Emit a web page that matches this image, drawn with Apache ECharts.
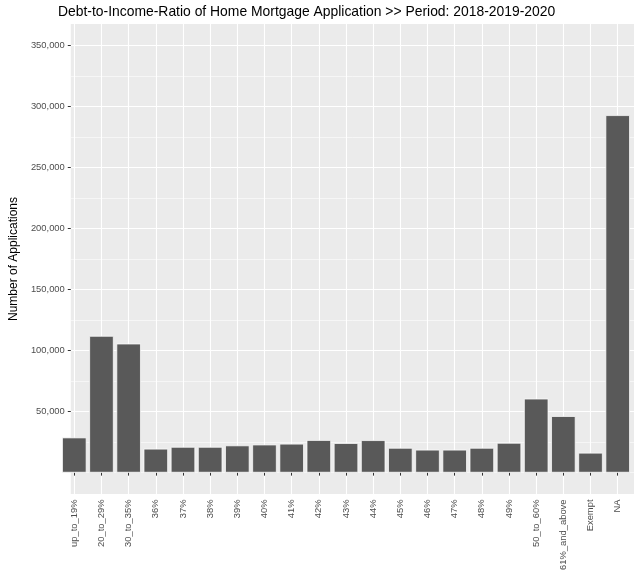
<!DOCTYPE html>
<html>
<head>
<meta charset="utf-8">
<script src="https://cdn.jsdelivr.net/npm/echarts@6/dist/echarts.min.js"></script>
<style>
html,body{margin:0;padding:0;background:#fff;}
#chart{width:640px;height:588px;}
</style>
</head>
<body>
<div id="chart"></div>
<script>
const categories = ['up_to_19%','20_to_29%','30_to_35%','36%','37%','38%','39%','40%','41%','42%','43%','44%','45%','46%','47%','48%','49%','50_to_60%','61%_and_above','Exempt','NA'];
const applications = [28800,112000,105700,19600,21100,21100,22300,23000,23700,26700,24200,26600,20300,18800,18800,20300,24400,60600,46300,16300,292800];
const majorTicks = [50000,100000,150000,200000,250000,300000,350000];
const minorTicks = [0,25000,75000,125000,175000,225000,275000,325000];
const yMin = -17500, yMax = 367500;

const FONT = "'Liberation Sans', Arial, sans-serif";
const chart = echarts.init(document.getElementById('chart'), null, {renderer:'canvas'});
const PANEL = {left:58, top:24, right:6, bottom:94};
const band = (640 - PANEL.left - PANEL.right) / (categories.length + 0.2);

chart.setOption({
  backgroundColor:'#ffffff',
  animation:false,
  title:{
    text:'Debt-to-Income-Ratio of Home Mortgage Application >> Period: 2018-2019-2020',
    left:58, top:5, padding:0,
    textStyle:{fontFamily:FONT, fontSize:13.9, fontWeight:'normal', color:'#000'}
  },
  grid:[
    {left:PANEL.left, top:PANEL.top, right:PANEL.right, bottom:PANEL.bottom, show:true, backgroundColor:'#ebebeb', borderWidth:0, containLabel:false},
    {left:PANEL.left+0.1*band, top:PANEL.top, right:PANEL.right+0.1*band, bottom:PANEL.bottom, containLabel:false},
    {left:PANEL.left+0.6*band, top:PANEL.top, right:PANEL.right+0.6*band, bottom:PANEL.bottom, containLabel:false}
  ],
  xAxis:[
    {gridIndex:0, type:'value', min:0, max:1, show:false},
    {gridIndex:1, type:'category', data:categories, boundaryGap:true,
      axisLine:{show:false},
      axisTick:{show:true, alignWithLabel:true, length:3, lineStyle:{color:'#333333', width:1}},
      axisLabel:{interval:0, rotate:90, margin:5.5, fontFamily:FONT, fontSize:9.4, color:'#4d4d4d'},
      splitLine:{show:false}
    },
    {gridIndex:2, type:'category', data:categories, boundaryGap:false,
      axisLine:{show:false}, axisTick:{show:false}, axisLabel:{show:false},
      splitLine:{show:true, interval:0, lineStyle:{color:'#ffffff', width:1.1}}
    }
  ],
  yAxis:[
    {gridIndex:0, type:'value', min:yMin, max:yMax,
      axisLine:{show:false},
      axisTick:{show:true, length:3, customValues:majorTicks, lineStyle:{color:'#333333', width:1}},
      axisLabel:{customValues:majorTicks, margin:6, fontFamily:FONT, fontSize:9.4, color:'#4d4d4d',
        formatter:v=>Number(v).toLocaleString('en-US')},
      splitLine:{show:true, lineStyle:{color:'#ffffff', width:1.1}},
      name:'Number of Applications', nameLocation:'middle', nameGap:45, nameRotate:90,
      nameTextStyle:{fontFamily:FONT, fontSize:12, color:'#000'}
    },
    {gridIndex:0, type:'value', min:yMin, max:yMax, position:'left',
      axisLine:{show:false},
      axisTick:{show:false, customValues:minorTicks},
      axisLabel:{show:false, customValues:minorTicks},
      splitLine:{show:true, lineStyle:{color:'#ffffff', width:0.55}}
    },
    {gridIndex:1, type:'value', min:yMin, max:yMax, show:false},
    {gridIndex:2, type:'value', min:0, max:1, show:false}
  ],
  series:[
    {type:'bar', xAxisIndex:1, yAxisIndex:2, data:applications, barWidth:'90%', z:5,
      itemStyle:{color:'#595959', borderColor:'rgba(255,255,255,0.9)', borderWidth:0.8},
      emphasis:{disabled:true}
    }
  ]
});
</script>
</body>
</html>
